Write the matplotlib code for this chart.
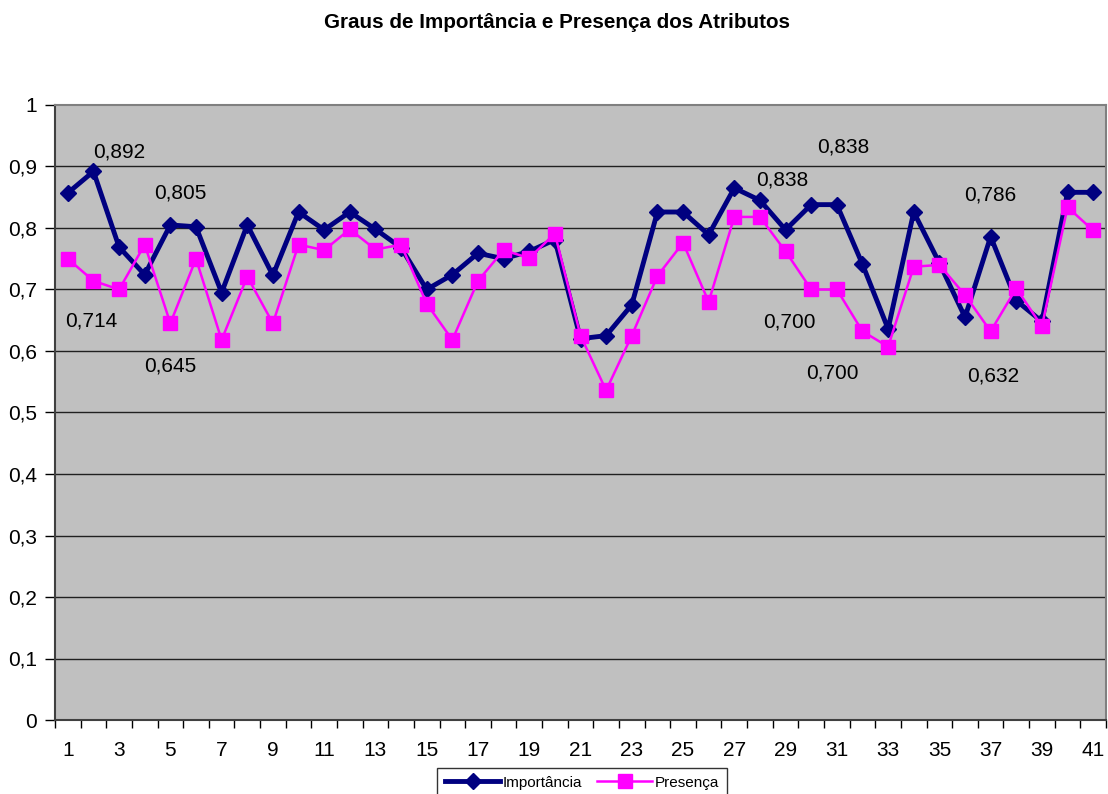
import matplotlib
matplotlib.use("Agg")
import matplotlib.pyplot as plt
from matplotlib.ticker import FixedLocator, NullFormatter

plt.rcParams['font.family'] = ['Liberation Sans', 'DejaVu Sans']

categories = list(range(1, 42))
importancia = [0.857, 0.892, 0.769, 0.724, 0.805, 0.802, 0.695, 0.805, 0.723, 0.826,
               0.797, 0.826, 0.798, 0.768, 0.700, 0.724, 0.759, 0.750, 0.762, 0.781,
               0.620, 0.625, 0.675, 0.826, 0.826, 0.789, 0.865, 0.845, 0.797, 0.838,
               0.838, 0.741, 0.636, 0.826, 0.743, 0.655, 0.786, 0.682, 0.648, 0.858,
               0.858]
presenca = [0.750, 0.714, 0.700, 0.773, 0.645, 0.750, 0.618, 0.721, 0.645, 0.773,
            0.764, 0.798, 0.765, 0.773, 0.677, 0.618, 0.714, 0.764, 0.751, 0.791,
            0.625, 0.536, 0.625, 0.722, 0.776, 0.680, 0.818, 0.818, 0.762, 0.700,
            0.700, 0.632, 0.607, 0.737, 0.740, 0.691, 0.632, 0.702, 0.640, 0.834,
            0.796]
y_ticks = [0, 0.1, 0.2, 0.3, 0.4, 0.5, 0.6, 0.7, 0.8, 0.9, 1.0]
x_tick_labels = [str(c) for c in categories if c % 2 == 1]

# labelled points: (category, offset in pixels)
labels_imp = [(2, (26, 19)), (5, (10, 32)), (30, (-29, 25)), (31, (6, 58)), (37, (0, 42))]
labels_pres = [(2, (-2, -40)), (5, (0, -43)), (30, (-22, -33)), (31, (-4, -84)), (37, (3, -45))]

W, H = 1108, 794
fig = plt.figure(figsize=(W / 100, H / 100), dpi=100)
ax = fig.add_axes([55 / W, 1 - 720 / H, (1106 - 55) / W, (720 - 105) / H])
ax.set_facecolor('#C0C0C0')

ax.set_xlim(0.5, 41.5)
ax.set_ylim(0, 1)

ax.set_yticks(y_ticks)
ax.set_yticklabels([('%g' % v).replace('.', ',') for v in y_ticks])
for v in y_ticks[1:-1]:
    ax.axhline(v, color='#202020', lw=1.0, zorder=1)

ax.xaxis.set_major_locator(FixedLocator([c + 0.5 for c in [0] + categories]))
ax.xaxis.set_major_formatter(NullFormatter())
ax.set_xticks([c for c in categories if c % 2 == 1], minor=True)
ax.set_xticklabels(x_tick_labels, minor=True)
ax.tick_params(axis='x', which='major', direction='out', length=6, width=1, color='black')
ax.tick_params(axis='x', which='minor', length=0, pad=15, labelsize=15)
ax.tick_params(axis='y', direction='out', length=7, width=1, labelsize=15, pad=6)

for s in ['top', 'right']:
    ax.spines[s].set_color('#808080')
    ax.spines[s].set_linewidth(1.5)
for s in ['left', 'bottom']:
    ax.spines[s].set_color('#404040')
    ax.spines[s].set_linewidth(1.5)

ax.plot(categories, importancia, color='#000080', lw=3.5, marker='D', markersize=8,
        label='Importância', zorder=3)
ax.plot(categories, presenca, color='#FF00FF', lw=1.8, marker='s', markersize=10.5,
        label='Presença', zorder=4)

def fmt(v):
    return ('%.3f' % v).replace('.', ',')

for cat, off in labels_imp:
    v = importancia[cat - 1]
    ax.annotate(fmt(v), (cat, v), xytext=off, textcoords='offset pixels',
                ha='center', va='center', fontsize=15, zorder=5)
for cat, off in labels_pres:
    v = presenca[cat - 1]
    ax.annotate(fmt(v), (cat, v), xytext=off, textcoords='offset pixels',
                ha='center', va='center', fontsize=15, zorder=5)

fig.text(557 / W, 1 - 22 / H, 'Graus de Importância e Presença dos Atributos',
         ha='center', va='center', fontsize=14.9, fontweight='bold')

leg = fig.legend(loc='upper center', bbox_to_anchor=(582 / W, 1 - 768 / H), ncol=2,
                 frameon=True, fancybox=False, edgecolor='black', fontsize=11,
                 handlelength=3.6, handletextpad=0.15, columnspacing=1.0,
                 borderpad=0.5, borderaxespad=0)
leg.get_frame().set_linewidth(1.0)

fig.savefig('out.png', dpi=100)
